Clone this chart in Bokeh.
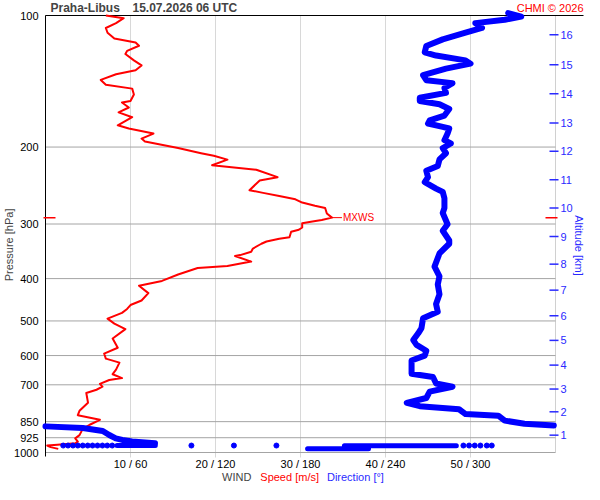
import numpy as np
from bokeh.plotting import figure
from bokeh.models import Range1d, Label
from bokeh.core.properties import value
from bokeh.embed import file_html
from bokeh.resources import INLINE

nan = float("nan")

# ---- wind speed profile (pressure hPa, speed m/s)
speed_p = [100.0, 101.4, 104.1, 106.8, 109.5, 112.9, 115.3, 117.3, 120.5, 122.5,
           126.7, 130.1, 133.4, 136.3, 140.4, 144.0, 147.0, 151.6, 156.9, 158.2,
           162.4, 166.6, 170.9, 178.3, 181.3, 186.3, 191.3, 194.3, 201.1, 206.6,
           209.4, 213.7, 220.1, 225.4, 234.4, 238.5, 251.1, 254.6, 258.9, 263.4,
           268.0, 272.5, 275.8, 283.8, 290.1, 293.7, 296.2, 298.8, 305.5, 309.3,
           312.6, 321.8, 324.4, 329.0, 332.9, 341.5, 347.3, 353.4, 355.2, 365.7,
           374.2, 378.4, 391.5, 404.9, 415.5, 431.8, 448.9, 459.8, 469.4, 479.1,
           494.0, 507.0, 522.0, 548.3, 575.8, 593.7, 609.8, 622.8, 646.4, 662.0,
           675.6, 682.6, 696.7, 707.0, 718.5, 730.8, 769.2, 802.8, 821.5, 841.8,
           864.0, 881.9, 912.5, 928.3, 944.3, 952.4, 960.0, 964.0, 972.0, 981.0]
speed_ms = [7.1, 9.2, 8.3, 7.1, 7.3, 8.1, 10.6, 11.0, 9.6, 9.4,
            10.4, 11.3, 10.6, 8.3, 6.5, 7.1, 10.2, 10.4, 10.0, 9.0,
            9.8, 8.6, 10.2, 8.5, 9.8, 12.7, 11.3, 11.7, 15.6, 18.3,
            19.8, 21.4, 19.6, 24.8, 27.3, 25.2, 24.0, 25.6, 27.5, 29.4,
            30.2, 31.7, 32.9, 33.1, 33.7, 32.5, 31.4, 30.2, 30.2, 29.8,
            28.9, 28.7, 27.5, 26.0, 25.4, 24.4, 24.2, 22.9, 22.3, 24.2,
            21.4, 17.9, 15.6, 13.7, 11.0, 12.1, 11.3, 10.0, 9.6, 9.0,
            7.3, 8.1, 9.4, 7.9, 8.5, 6.9, 7.1, 8.7, 8.3, 7.9,
            9.0, 7.5, 6.4, 6.7, 6.0, 4.8, 5.0, 4.0, 3.8, 6.4,
            5.2, 4.4, 4.0, 3.5, 3.8, 3.5, 1.4, 0.2, 0.6, 1.5]

# ---- wind direction profile (pressure hPa, direction deg); nan = wrap 360 -> 0
dir_p = [98.7, 100.6, 102.3, 104.1, 106.8, 109.5, 113.4, 117.4, 121.4, 123.5,
         126.7, 128.9, 132.3, 136.9, 140.6, 142.8, 146.5, 150.3, 154.2, 156.9,
         159.6, 163.7, 169.4, 173.7, 176.7, 179.9, 181.4, 186.3, 192.9, 196.3,
         201.1, 206.6, 213.5, 220.9, 226.6, 234.4, 240.5, 248.9, 253.3, 262.0,
         275.9, 283.1, 300.4, 310.9, 327.2, 332.9, 350.4, 375.6, 395.3, 412.6,
         434.6, 457.5, 476.6, 493.0, 519.1, 533.6, 553.1, 567.4, 585.1, 600.4,
         616.0, 660.2, 671.9, 695.0, 707.0, 725.4, 750.4, 770.0, 783.5, 796.1,
         816.6, 823.8, 845.3, 859.6, 866.9, nan,
         871.4, 879.0, 893.0, 912.0, 928.0, 936.0, 944.0, 952.0]
dir_deg = [326.6, 335.8, 324.2, 303.4, 308.1, 296.5, 280.4, 268.8, 267.7, 275.7,
           296.5, 300.0, 282.7, 266.5, 268.8, 287.3, 281.6, 282.7, 264.2, 264.2,
           278.1, 285.0, 281.6, 271.2, 270.0, 280.4, 285.0, 283.8, 281.6, 286.1,
           280.4, 282.7, 278.1, 276.9, 268.8, 270.0, 267.7, 275.7, 280.4, 281.6,
           281.6, 280.4, 283.8, 280.4, 285.0, 285.0, 278.1, 274.6, 278.1, 276.9,
           278.1, 275.7, 276.9, 266.5, 265.4, 263.1, 259.6, 261.9, 268.8, 267.7,
           258.4, 258.4, 273.5, 275.7, 287.3, 271.2, 268.8, 255.0, 264.2, 291.9,
           296.5, 319.6, 324.2, 338.1, 358.8, nan,
           0.0, 26.3, 40.4, 45.0, 49.6, 54.2, 61.1, 77.3]

# near-surface direction samples
sfc_line_p = [964.0, 964.0, nan, 981.0, 981.0, nan, 965.0, 965.0]
sfc_line_deg = [50.5, 77.5, nan, 185.0, 228.0, nan, 211.0, 290.0]
sfc_dot_p = [964.0] * 20
sfc_dot_deg = [12.5, 15.9, 19.4, 22.8, 26.3, 29.8, 33.2, 36.7, 40.2, 43.6,
               47.1, 103.0, 133.0, 163.0, 295.0, 299.0, 303.0, 307.0, 311.5, 315.0]

# ---- ticks
p_ticks = [100, 200, 300, 400, 500, 600, 700, 850, 925, 1000]
speed_ticks = [10, 20, 30, 40, 50]
dir_ticks = [60, 120, 180, 240, 300]
alt_km = [1, 2, 3, 4, 5, 6, 7, 8, 9, 10, 11, 12, 13, 14, 15, 16]
alt_p = [912.7, 807.0, 715.8, 631.0, 553.9, 486.5, 425.1, 370.7, 320.6, 275.8,
         237.6, 204.5, 176.2, 151.1, 129.6, 110.7]

# ---- layout (pixels on the canvas)
W, H = 584, 484
X0, X1 = 45, 555          # speed 0 and 60
Y0, Y1 = 15, 452          # 100 hPa and 1000 hPa
SMAX, PTOP, PBOT = 60.0, 100.0, 1000.0
ppu = (X1 - X0) / SMAX
dec = (Y1 - Y0) / np.log10(PBOT / PTOP)


def sx(px):
    return (px - X0) / ppu


def sy(py):
    return PTOP * 10 ** ((py - Y0) / dec)


FONT = "Liberation Sans"
RED = "#ff0000"
BLUE = "#0000ff"
LBLUE = "#2a2aff"
FS = "11px"

p = figure(width=W, height=H, title=None,
           x_range=Range1d(sx(0), sx(W)), y_range=Range1d(sy(H), sy(0)),
           y_axis_type="log", x_axis_location=None, y_axis_location=None,
           output_backend="svg", toolbar_location=None,
           min_border=0, min_border_left=0, min_border_right=0,
           min_border_top=0, min_border_bottom=0, outline_line_color=None,
           background_fill_color="white", border_fill_color="white")
p.grid.visible = False
p.extra_x_ranges = {"dir": Range1d(sx(0) * 6, sx(W) * 6)}

# grid lines
n_v = len(speed_ticks)
p.segment(x0=speed_ticks, y0=[PTOP] * n_v, x1=speed_ticks, y1=[sy(Y1 + 5)] * n_v,
          line_color="#d8d8d8", line_width=1)
p.segment(x0=[SMAX], y0=[PTOP], x1=[SMAX], y1=[PBOT], line_color="#d0d0d0", line_width=1)
n_h = len(p_ticks)
p.segment(x0=[0] * n_h, y0=p_ticks, x1=[SMAX] * n_h, y1=p_ticks,
          line_color="#a4a4a4", line_width=1)
# frame lines
p.segment(x0=[0], y0=[PTOP], x1=[sx(583)], y1=[PTOP], line_color="black", line_width=1)
p.segment(x0=[0], y0=[PTOP], x1=[0], y1=[sy(Y1 + 4)], line_color="black", line_width=1)

# left axis labels
p.text(x=[sx(X0 - 7)] * n_h, y=p_ticks, text=[str(t) for t in p_ticks],
       text_font=value(FONT), text_font_size=value(FS), text_color="black",
       text_align="right", text_baseline="middle")
# bottom axis labels
p.text(x=speed_ticks, y=[sy(Y1 + 11)] * n_v,
       text=[f"{s} / {d}" for s, d in zip(speed_ticks, dir_ticks)],
       text_font=value(FONT), text_font_size=value(FS), text_color="black",
       text_align="center", text_baseline="middle")
# right axis (altitude)
n_a = len(alt_p)
p.segment(x0=[SMAX - 6 / ppu] * n_a, y0=alt_p, x1=[SMAX + 3 / ppu] * n_a, y1=alt_p,
          line_color=LBLUE, line_width=1.5)
p.text(x=[SMAX + 5 / ppu] * n_a, y=alt_p, text=[str(k) for k in alt_km],
       text_font=value(FONT), text_font_size=value(FS), text_color=LBLUE,
       text_align="left", text_baseline="middle")

# data
p.line(speed_ms, speed_p, line_color=RED, line_width=2, line_join="round")
p.line(dir_deg, dir_p, x_range_name="dir", line_color=BLUE, line_width=6,
       line_join="round", line_cap="round")
p.line(sfc_line_deg, sfc_line_p, x_range_name="dir", line_color=BLUE, line_width=5,
       line_join="round", line_cap="round")
p.scatter(sfc_dot_deg, sfc_dot_p, x_range_name="dir", size=5, color=BLUE)

# maximum wind marker
i = int(np.argmax(speed_ms))
mx_s, mx_p = speed_ms[i], speed_p[i]
p.segment(x0=[-2 / ppu, SMAX - 10 / ppu], y0=[mx_p, mx_p],
          x1=[10 / ppu, SMAX + 2 / ppu], y1=[mx_p, mx_p],
          line_color=RED, line_width=1.5)
p.segment(x0=[mx_s], y0=[mx_p], x1=[mx_s + 10 / ppu], y1=[mx_p], line_color=RED, line_width=1)
p.add_layout(Label(x=mx_s + 11 / ppu, y=mx_p, text="MXWS", text_color=RED,
                   text_font=FONT, text_font_size="10px", text_baseline="middle"))

# texts
ty = sy(7)
p.add_layout(Label(x=sx(50), y=ty, text="Praha-Libus", text_font=FONT,
                   text_font_size="12px", text_font_style="bold", text_baseline="middle"))
p.add_layout(Label(x=sx(132), y=ty, text="15.07.2026 06 UTC", text_font=FONT,
                   text_font_size="12px", text_font_style="bold", text_baseline="middle"))
p.add_layout(Label(x=sx(583), y=ty, text="CHMI \u00a9 2026", text_font=FONT,
                   text_font_size=FS, text_color=RED, text_align="right",
                   text_baseline="middle"))
p.add_layout(Label(x=sx(8), y=335, text="Pressure [hPa]", text_font=FONT,
                   text_font_size=FS, angle=np.pi / 2, text_align="center",
                   text_baseline="middle"))
p.add_layout(Label(x=sx(578), y=336, text="Altitude [km]", text_font=FONT,
                   text_font_size=FS, angle=-np.pi / 2, text_align="center",
                   text_baseline="middle", text_color=LBLUE))
by = sy(Y1 + 24)
p.add_layout(Label(x=20.77, y=by, text="WIND", text_font=FONT,
                   text_font_size=FS, text_baseline="middle"))
p.add_layout(Label(x=25.27, y=by, text="Speed [m/s]", text_font=FONT,
                   text_font_size=FS, text_baseline="middle", text_color=RED))
p.add_layout(Label(x=33.11, y=by, text="Direction [\u00b0]", text_font=FONT,
                   text_font_size=FS, text_baseline="middle", text_color=LBLUE))

open("out.html", "w").write(file_html(p, INLINE))
